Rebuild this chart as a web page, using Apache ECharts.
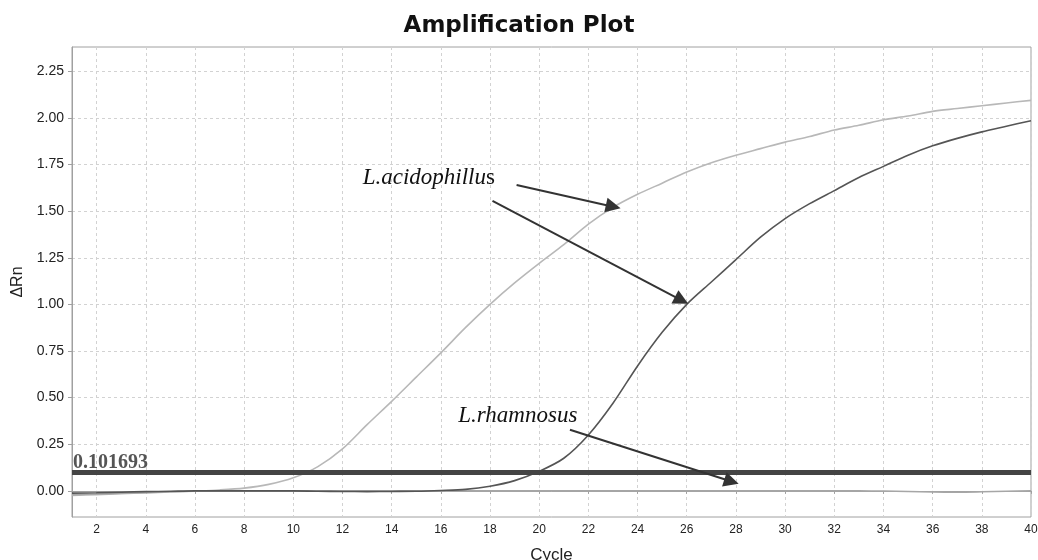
<!DOCTYPE html>
<html>
<head>
<meta charset="utf-8">
<script src="https://cdn.jsdelivr.net/npm/echarts@6.0.0/dist/echarts.min.js"></script>
<style>
  html, body { margin: 0; padding: 0; background: #fff; }
  #chart { width: 1038px; height: 560px; }
</style>
</head>
<body>
<div id="chart"></div>
<script>
// qPCR amplification data
const cycles = [1, 2, 3, 4, 5, 6, 7, 8, 9, 10, 11, 12, 13, 14, 15, 16, 17, 18, 19, 20,
  21, 22, 23, 24, 25, 26, 27, 28, 29, 30, 31, 32, 33, 34, 35, 36, 37, 38, 39, 40];

const acidoEarly = [-0.025, -0.02, -0.015, -0.011, -0.006, -0.001, 0.005, 0.015, 0.035, 0.07,
  0.13, 0.225, 0.355, 0.48, 0.61, 0.74, 0.875, 1.0, 1.115, 1.22,
  1.32, 1.43, 1.52, 1.59, 1.65, 1.71, 1.76, 1.80, 1.835, 1.87,
  1.90, 1.935, 1.96, 1.99, 2.01, 2.035, 2.05, 2.065, 2.08, 2.094];

const acidoLate = [-0.012, -0.01, -0.007, -0.004, -0.002, 0.0, 0.0, 0.0, 0.0, 0.0,
  -0.002, -0.003, -0.004, -0.003, -0.002, 0.002, 0.008, 0.025, 0.055, 0.105,
  0.175, 0.30, 0.47, 0.67, 0.85, 1.0, 1.12, 1.24, 1.36, 1.46,
  1.54, 1.61, 1.68, 1.74, 1.80, 1.85, 1.89, 1.925, 1.955, 1.985];

const rhamnosus = [-0.02, -0.017, -0.013, -0.009, -0.005, -0.002, 0.0, 0.0, 0.0, 0.0,
  0.0, 0.0, 0.0, 0.0, 0.0, 0.0, 0.0, 0.0, 0.0, 0.0,
  0.0, 0.0, 0.0, 0.0, 0.0, 0.0, 0.0, 0.0, 0.0, 0.0,
  0.0, 0.0, 0.0, -0.001, -0.003, -0.006, -0.007, -0.005, -0.002, 0.0];

const threshold = 0.101693;

const xTicks = [2, 4, 6, 8, 10, 12, 14, 16, 18, 20, 22, 24, 26, 28, 30, 32, 34, 36, 38, 40];
const yTicks = [0, 0.25, 0.5, 0.75, 1.0, 1.25, 1.5, 1.75, 2.0, 2.25];

// annotation arrows, [cycle, ΔRn] from -> to
const arrowsAcido = [
  [[19.08, 1.64], [23.01, 1.524]],
  [[18.1, 1.555], [25.79, 1.022]]
];
const arrowsRhamno = [
  [[21.25, 0.328], [27.82, 0.05]]
];

const chart = echarts.init(document.getElementById('chart'), null, { renderer: 'canvas' });

const toPairs = (vals) => cycles.map((c, i) => [c, vals[i]]);

const arrowLine = (pair) => [
  { coord: pair[0] },
  { coord: pair[1] }
];

const annoFont = '"Liberation Serif", "Times New Roman", serif';
const axisFont = '"Liberation Sans", Arial, sans-serif';

const option = {
  animation: false,
  backgroundColor: '#fff',
  title: {
    text: 'Amplification Plot',
    left: 'center',
    top: 10,
    textStyle: {
      fontFamily: '"DejaVu Sans", Verdana, sans-serif',
      fontWeight: 'bold',
      fontSize: 23,
      color: '#111'
    }
  },
  grid: {
    left: 72,
    right: 7,
    top: 47,
    bottom: 43,
    outerBoundsMode: 'none',
    show: true,
    borderColor: '#a0a0a0',
    borderWidth: 1
  },
  xAxis: {
    type: 'value',
    min: 1,
    max: 40,
    name: 'Cycle',
    nameLocation: 'middle',
    nameGap: 30,
    nameTextStyle: { fontFamily: axisFont, fontSize: 17, color: '#222' },
    axisLine: { lineStyle: { color: '#a0a0a0' } },
    axisTick: { show: true, customValues: xTicks, length: 3, lineStyle: { color: '#a0a0a0' } },
    axisLabel: {
      customValues: xTicks,
      margin: 7,
      fontFamily: axisFont,
      fontSize: 12,
      color: '#222'
    },
    splitLine: { show: true, lineStyle: { color: '#d2d2d2', type: [3, 3] } }
  },
  yAxis: {
    type: 'value',
    min: -0.14,
    max: 2.38,
    name: 'ΔRn',
    nameLocation: 'middle',
    nameGap: 46,
    nameTextStyle: { fontFamily: axisFont, fontSize: 16, color: '#222' },
    axisLine: { show: true, lineStyle: { color: '#a0a0a0' } },
    axisTick: { show: true, customValues: yTicks, length: 4, lineStyle: { color: '#a0a0a0' } },
    axisLabel: {
      customValues: yTicks,
      margin: 8,
      formatter: (v) => v.toFixed(2),
      fontFamily: axisFont,
      fontSize: 14,
      color: '#222'
    },
    splitLine: { show: true, lineStyle: { color: '#d2d2d2', type: [3, 3] } }
  },
  series: [
    {
      name: 'L.acidophillus (early)',
      type: 'line',
      data: toPairs(acidoEarly),
      smooth: 0.3,
      symbol: 'none',
      lineStyle: { color: '#b8b8b8', width: 1.6 },
      markPoint: {
        silent: true,
        symbol: 'circle',
        symbolSize: 0,
        data: [
          {
            coord: [15.51, 1.678],
            label: {
              show: true,
              position: 'inside',
              formatter: '{i|L.acidophillu}{n|s}',
              rich: {
                i: { fontFamily: annoFont, fontStyle: 'italic', fontSize: 23, color: '#111' },
                n: { fontFamily: annoFont, fontSize: 23, color: '#111' }
              }
            }
          },
          {
            coord: [19.13, 0.403],
            label: {
              show: true,
              position: 'inside',
              formatter: 'L.rhamnosus',
              fontFamily: annoFont,
              fontStyle: 'italic',
              fontSize: 23,
              color: '#111'
            }
          }
        ]
      }
    },
    {
      name: 'L.rhamnosus',
      type: 'line',
      data: toPairs(rhamnosus),
      smooth: 0.3,
      symbol: 'none',
      lineStyle: { color: '#a6a6a6', width: 1.6 }
    },
    {
      name: 'L.acidophillus (late)',
      type: 'line',
      data: toPairs(acidoLate),
      smooth: 0.3,
      symbol: 'none',
      lineStyle: { color: '#555555', width: 1.6 },
      markLine: {
        silent: true,
        symbol: 'none',
        lineStyle: { color: '#444', width: 5, type: 'solid' },
        label: {
          show: true,
          position: 'insideStartTop',
          distance: [1, -1],
          formatter: () => String(threshold),
          fontFamily: annoFont,
          fontWeight: 'bold',
          fontSize: 20,
          color: '#555'
        },
        data: [{ yAxis: threshold }]
      }
    },
    {
      name: 'arrows',
      type: 'line',
      data: [],
      markLine: {
        silent: true,
        symbol: ['none', 'triangle'],
        symbolSize: 15,
        lineStyle: { color: '#333', width: 2, type: 'solid' },
        label: { show: false },
        data: arrowsAcido.concat(arrowsRhamno).map(arrowLine)
      }
    }
  ]
};

chart.setOption(option);
window.addEventListener('resize', () => chart.resize());
</script>
</body>
</html>
